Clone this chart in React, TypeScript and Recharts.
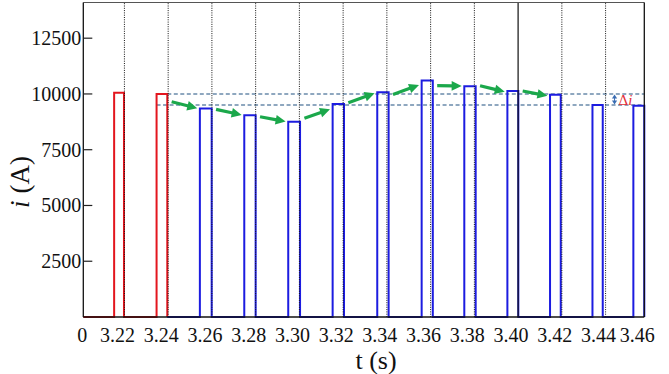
import { LineChart, Line, XAxis, YAxis, ReferenceLine } from "recharts";

// axis frame (the time axis is broken at the origin, hence the "0" label)
const X_MIN = 3.2012;
const X_MAX = 3.4577;
const Y_MAX = 14100;

const xTickValues = [X_MIN, 3.22, 3.24, 3.26, 3.28, 3.3, 3.32, 3.34, 3.36, 3.38, 3.4, 3.42, 3.44, X_MAX];
const xTickLabels = ["0", "3.22", "3.24", "3.26", "3.28", "3.30", "3.32", "3.34", "3.36", "3.38", "3.40", "3.42", "3.44", "3.46"];
const yTickValues = [2500, 5000, 7500, 10000, 12500];

const dottedGrid = [3.22, 3.24, 3.26, 3.28, 3.3, 3.32, 3.34, 3.36, 3.38, 3.42, 3.44];
const solidGrid = [3.4];

// red pulses (before control)
const redRise = [3.2153, 3.2347];
const redFall = [3.2198, 3.2396];
const redPeak = [10050, 10000];

// blue pulses (with control)
const blueRise = [3.2545, 3.2748, 3.2949, 3.3152, 3.3356, 3.3559, 3.3754, 3.3951, 3.4146, 3.434, 3.4527];
const blueFall = [3.2599, 3.28, 3.3003, 3.3204, 3.3408, 3.361, 3.3806, 3.4001, 3.4195, 3.4387, 3.4577];
const bluePeak = [9350, 9050, 8750, 9550, 10080, 10600, 10350, 10130, 9960, 9500, 9470];

// dashed reference levels
const levelValues = [10000, 9500];
const levelStarts = [3.2396, 3.2347];

// green trend arrows (current at tail / tip)
const arrowStartI = [9650, 9310, 8980, 8910, 9610, 9980, 10370, 10370, 10130];
const arrowEndI = [9360, 9060, 8760, 9310, 10030, 10400, 10360, 10100, 9920];

// delta-i marker
const deltaT = 3.4441;
const deltaLow = 9500;
const deltaHigh = 10000;

const FONT = "Liberation Serif, Tinos, Times New Roman, DejaVu Serif, serif";

function waveform(start: number, rise: number[], fall: number[], peak: number[]) {
  const pts = [{ t: start, i: 0 }];
  rise.forEach((r, k) => {
    pts.push({ t: r, i: 0 }, { t: r, i: peak[k] }, { t: fall[k], i: peak[k] }, { t: fall[k], i: 0 });
  });
  return pts;
}

const redData = waveform(X_MIN, redRise, redFall, redPeak);
const blueData = waveform(redFall[1], blueRise, blueFall, bluePeak);

// pulses the arrows walk along: last red one, then blue 1..9
const trackFall = [redFall[1], ...blueFall.slice(0, 8)];
const trackRise = blueRise.slice(0, 9);

const serif = { fontFamily: FONT };

const XTick = (props: any) => {
  const { x, y, index } = props;
  const shift = index === 0 ? -1 : -7;
  return (
    <text x={x + shift} y={y + 18} textAnchor="middle" dominantBaseline="central"
      style={serif} fontSize={20} fill="#111">
      {xTickLabels[index]}
    </text>
  );
};

const YTick = (props: any) => {
  const { x, y, payload } = props;
  return (
    <g>
      <line x1={x} x2={x + 9} y1={y} y2={y} stroke="#222" strokeWidth={1.2} />
      <text x={x - 2} y={y} textAnchor="end" dominantBaseline="central"
        style={serif} fontSize={20} fill="#111">
        {payload.value}
      </text>
    </g>
  );
};

const GreenArrow = (p: any) => {
  const { x1, y1, x2, y2 } = p;
  const dx = x2 - x1;
  const dy = y2 - y1;
  const len = Math.hypot(dx, dy) || 1;
  const ux = dx / len;
  const uy = dy / len;
  const head = 10;
  const half = 4.8;
  const bx = x2 - ux * head;
  const by = y2 - uy * head;
  return (
    <g>
      <line x1={x1} y1={y1} x2={bx + ux} y2={by + uy} stroke="#1ba84b" strokeWidth={3.2} />
      <polygon
        points={`${x2},${y2} ${bx - uy * half},${by + ux * half} ${bx + uy * half},${by - ux * half}`}
        fill="#1ba84b"
      />
    </g>
  );
};

const DeltaMarker = (p: any) => {
  const { x1, y1, y2 } = p;
  const top = Math.min(y1, y2);
  const bot = Math.max(y1, y2);
  const x = x1;
  return (
    <g>
      <line x1={x} x2={x} y1={top + 3} y2={bot - 3} stroke="#3a6db3" strokeWidth={1} />
      <polygon points={`${x},${top + 0.5} ${x - 2.6},${top + 4.5} ${x + 2.6},${top + 4.5}`} fill="#3a6db3" />
      <polygon points={`${x},${bot - 0.5} ${x - 2.6},${bot - 4.5} ${x + 2.6},${bot - 4.5}`} fill="#3a6db3" />
      <text x={x + 4} y={(top + bot) / 2 + 5} style={serif} fontSize={15} fill="#e3303a">
        Δ<tspan fontStyle="italic">i</tspan>
      </text>
    </g>
  );
};

export default function App() {
  return (
    <div style={{ position: "absolute", left: 0, top: 0, background: "#fff", fontFamily: FONT }}>
      <LineChart width={669} height={374} margin={{ top: 2.5, right: 24.7, bottom: 7, left: 3.3 }}>
        <XAxis
          dataKey="t"
          type="number"
          domain={[X_MIN, X_MAX]}
          ticks={xTickValues}
          interval={0}
          tick={<XTick />}
          tickLine={false}
          tickSize={0}
          tickMargin={0}
          height={50}
          axisLine={{ stroke: "#111", strokeWidth: 1.3 }}
          label={{
            content: () => (
              <text x={376} y={369} textAnchor="middle" style={serif} fontSize={26} fill="#111">
                t (s)
              </text>
            ),
          }}
        />
        <YAxis
          type="number"
          domain={[0, Y_MAX]}
          ticks={yTickValues}
          interval={0}
          tick={<YTick />}
          tickLine={false}
          tickSize={0}
          tickMargin={0}
          width={80}
          axisLine={{ stroke: "#111", strokeWidth: 1.3 }}
          label={{
            content: () => (
              <text transform="translate(29,182) rotate(-90)" textAnchor="middle"
                style={serif} fontSize={27} fill="#111">
                <tspan fontStyle="italic">i</tspan> (A)
              </text>
            ),
          }}
        />

        {levelValues.map((v, k) => (
          <ReferenceLine
            key={`lvl${v}`}
            segment={[{ x: levelStarts[k], y: v }, { x: X_MAX, y: v }]}
            stroke="#6a8aaa"
            strokeWidth={1.5}
            strokeDasharray="4 2.5"
          />
        ))}

        <Line data={redData} dataKey="i" type="linear" stroke="#e3161e" strokeWidth={2}
          dot={false} isAnimationActive={false} />
        <Line data={blueData} dataKey="i" type="linear" stroke="#1c1ce0" strokeWidth={2}
          dot={false} isAnimationActive={false} />

        {dottedGrid.map((t) => (
          <ReferenceLine key={`g${t}`} x={t} stroke="#111" strokeWidth={1} strokeDasharray="1 1.3" />
        ))}
        {solidGrid.map((t) => (
          <ReferenceLine key={`s${t}`} x={t} stroke="#111" strokeWidth={1.2} />
        ))}
        <ReferenceLine y={Y_MAX} stroke="#555" strokeWidth={1.2} />
        <ReferenceLine x={X_MAX} stroke="#111" strokeWidth={1.3} />

        {arrowStartI.map((v, k) => (
          <ReferenceLine
            key={`a${k}`}
            segment={[
              { x: trackFall[k] + 0.002, y: v },
              { x: trackRise[k] - 0.0012, y: arrowEndI[k] },
            ]}
            shape={<GreenArrow />}
          />
        ))}

        <ReferenceLine
          segment={[{ x: deltaT, y: deltaLow }, { x: deltaT, y: deltaHigh }]}
          shape={<DeltaMarker />}
        />
      </LineChart>
    </div>
  );
}
